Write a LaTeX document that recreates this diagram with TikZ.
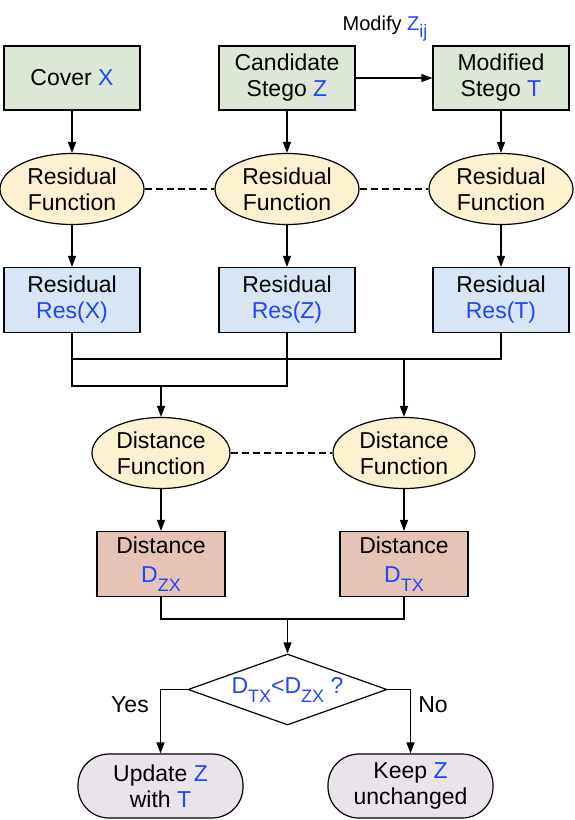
\documentclass[tikz,border=0pt]{standalone}
\usepackage{fontspec}
\setmainfont{Liberation Sans}
\usepackage{tikz}
\usetikzlibrary{shapes.geometric}
\usetikzlibrary{positioning}
\usetikzlibrary{arrows.meta}
\usepackage{xcolor}

\definecolor{inkblue}{HTML}{1F45FF}
\definecolor{boxgreen}{HTML}{DCE8D5}
\definecolor{boxblue}{HTML}{D7E5F4}
\definecolor{funyellow}{HTML}{FDF2D0}
\definecolor{distred}{HTML}{E5C3B7}
\definecolor{endviolet}{HTML}{EBE3EC}

\newcommand{\blu}[1]{\textcolor{inkblue}{#1}}
\newcommand{\lowsub}[2][9pt]{\raisebox{-#1}{\fontsize{18}{18}\selectfont #2}}

\begin{document}
\begin{tikzpicture}[x=1pt, y=1pt, line width=1.2pt,
    >={Triangle[length=11pt,width=8pt]},
    txt/.style={font=\fontsize{23}{26}\selectfont, align=center},
    stepbox/.style={txt, draw, rectangle, minimum width=136pt, minimum height=65pt, inner sep=0pt},
    funcell/.style={txt, draw, ellipse, fill=funyellow, inner sep=0pt, minimum height=71pt},
    endbox/.style={txt, draw, rectangle, rounded corners=31pt, fill=endviolet, minimum width=165pt, minimum height=64pt, inner sep=0pt}]
    \useasboundingbox (0,0) rectangle (574,-820);

    % Images
    \node[stepbox, fill=boxgreen, minimum height=64pt] (cover) at (72,-78) {Cover \blu{X}};
    \node[stepbox, fill=boxgreen, minimum height=64pt] (cand) at (287,-78) {Candidate\\Stego \blu{Z}};
    \node[stepbox, fill=boxgreen, minimum height=64pt] (modif) at (501,-78) {Modified\\Stego \blu{T}};
    \node[font=\fontsize{20}{24}\selectfont] (modlbl) at (385,-29) {Modify \blu{Z\lowsub[7pt]{ij}}};

    % Residuals
    \node[funcell, minimum width=144pt] (resf1) at (72,-189) {Residual\\Function};
    \node[funcell, minimum width=144pt] (resf2) at (287,-189) {Residual\\Function};
    \node[funcell, minimum width=144pt] (resf3) at (501,-189) {Residual\\Function};
    \node[stepbox, fill=boxblue] (resx) at (72,-300) {Residual\\\blu{Res(X)}};
    \node[stepbox, fill=boxblue] (resz) at (287,-300) {Residual\\\blu{Res(Z)}};
    \node[stepbox, fill=boxblue] (rest) at (501,-300) {Residual\\\blu{Res(T)}};

    % Distances
    \coordinate (j1) at (404,-359);
    \coordinate (j2) at (161,-386);
    \node[funcell, minimum width=138pt] (distf1) at (161,-453) {Distance\\Function};
    \node[funcell, minimum width=142pt] (distf2) at (404,-453) {Distance\\Function};
    \node[stepbox, fill=distred, minimum width=128pt] (dzx) at (161,-564) {Distance\\[3pt]\blu{D\lowsub{ZX}}};
    \node[stepbox, fill=distred, minimum width=128pt] (dtx) at (404,-564) {Distance\\[3pt]\blu{D\lowsub{TX}}};

    % Decision
    \coordinate (join) at (287.5,-619);
    \node[txt, draw, diamond, aspect=2.8, minimum width=199pt, minimum height=71pt, inner sep=0pt] (cmp) at (287.5,-689.5) {\blu{D\lowsub{TX}<D\lowsub{ZX} ?}};
    \node[endbox] (update) at (160.5,-786) {Update \blu{Z}\\with \blu{T}};
    \node[endbox] (keep) at (410.5,-786) {Keep \blu{Z}\\unchanged};
    \node[txt] (yes) at (130,-705) {Yes};
    \node[txt] (no) at (433,-705) {No};

    \draw[->] (cand) -- (modif);
    \draw[->] (cover) -- (resf1);
    \draw[->] (cand) -- (resf2);
    \draw[->] (modif) -- (resf3);
    \draw[dashed, dash pattern=on 7pt off 4pt] (resf1) -- (resf2);
    \draw[dashed, dash pattern=on 7pt off 4pt] (resf2) -- (resf3);
    \draw[->] (resf1) -- (resx);
    \draw[->] (resf2) -- (resz);
    \draw[->] (resf3) -- (rest);

    \draw (resx.south) |- (j2) -| (resz.south);
    \draw (resx.south |- j1) -| (rest.south);
    \draw[->] (j2) -- (distf1);
    \draw[->] (j1) -- (distf2);
    \draw[dashed, dash pattern=on 7pt off 4pt] (distf1) -- (distf2);
    \draw[->] (distf1) -- (dzx);
    \draw[->] (distf2) -- (dtx);

    \draw (dzx.south) |- (join) -| (dtx.south);
    \draw[->] (join) -- (cmp.north);
    \draw[->] (cmp.west) -| (update);
    \draw[->] (cmp.east) -| (keep);
\end{tikzpicture}
\end{document}
